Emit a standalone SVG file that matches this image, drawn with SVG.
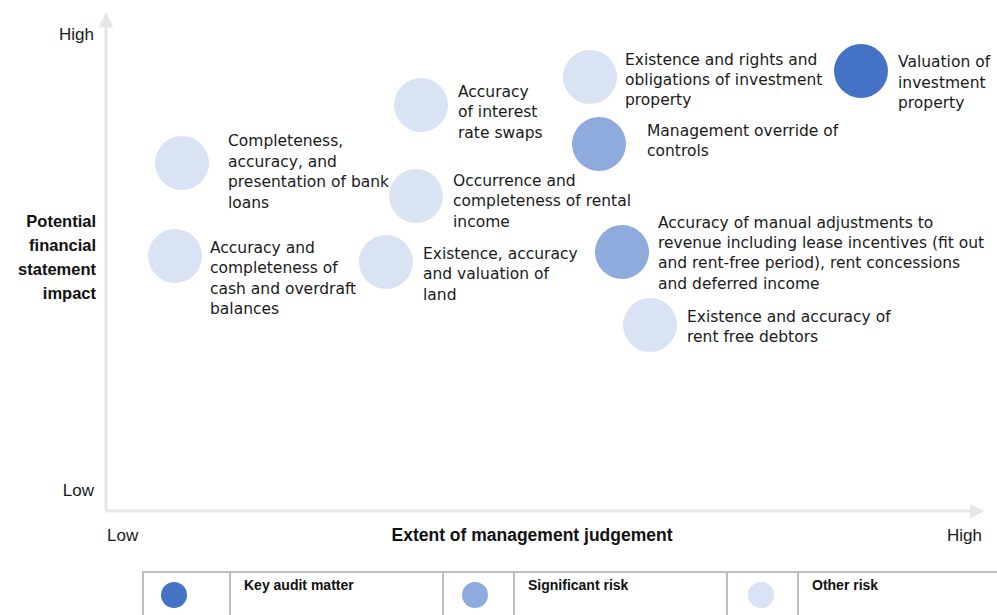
<svg xmlns="http://www.w3.org/2000/svg" width="997" height="615" viewBox="0 0 997 615">
<style>
.lbl{font-family:"DejaVu Sans",Verdana,sans-serif;font-size:15.5px;fill:#1a1a1a}
.ax{font-family:"Liberation Sans",Arial,sans-serif;font-size:17px;fill:#1a1a1a}
.axb{font-family:"Liberation Sans",Arial,sans-serif;font-size:16.5px;font-weight:bold;fill:#111}
.lg{font-family:"Liberation Sans",Arial,sans-serif;font-size:14px;font-weight:bold;fill:#111}
.kam{fill:#4472C4}
.sig{fill:#8FAADC}
.oth{fill:#DAE3F3}
.axis{stroke:#E6E6E6;stroke-width:3;fill:none}
.tb{stroke:#BFBFBF;stroke-width:2;fill:none}
</style>
<defs>
<marker id="ah" viewBox="0 0 10 10" refX="9" refY="5" markerWidth="5" markerHeight="5" orient="auto" markerUnits="strokeWidth">
<path d="M0,0 L10,5 L0,10 Z" fill="#E6E6E6"/>
</marker>
</defs>
<rect width="997" height="615" fill="#fff"/>
<g id="connectors">
<path class="axis" d="M106,511 L106,14" marker-end="url(#ah)"/>
<path class="axis" d="M106,511 L983,511" marker-end="url(#ah)"/>
</g>
<g id="axis-labels">
<text class="ax" x="94" y="40" text-anchor="end">High</text>
<text class="ax" x="94" y="496" text-anchor="end">Low</text>
<text class="ax" x="107" y="541">Low</text>
<text class="ax" x="982" y="541" text-anchor="end">High</text>
<text class="axb" text-anchor="end"><tspan x="96" y="227">Potential</tspan><tspan x="96" y="251">financial</tspan><tspan x="96" y="275">statement</tspan><tspan x="96" y="299">impact</tspan></text>
<text class="axb" x="532" y="541" text-anchor="middle" style="font-size:17.5px">Extent of management judgement</text>
</g>
<g id="n1"><circle class="oth" cx="182" cy="163" r="27"/><text class="lbl"><tspan x="228" y="146">Completeness,</tspan><tspan x="228" y="167">accuracy, and</tspan><tspan x="228" y="187">presentation of bank</tspan><tspan x="228" y="208">loans</tspan></text></g>
<g id="n2"><circle class="oth" cx="175" cy="256" r="27"/><text class="lbl"><tspan x="210" y="253">Accuracy and</tspan><tspan x="210" y="273">completeness of</tspan><tspan x="210" y="294">cash and overdraft</tspan><tspan x="210" y="314">balances</tspan></text></g>
<g id="n3"><circle class="oth" cx="421" cy="105" r="27"/><text class="lbl"><tspan x="458" y="97">Accuracy</tspan><tspan x="458" y="117">of interest</tspan><tspan x="458" y="138">rate swaps</tspan></text></g>
<g id="n4"><circle class="oth" cx="416" cy="196" r="27"/><text class="lbl"><tspan x="453" y="186">Occurrence and</tspan><tspan x="453" y="206">completeness of rental</tspan><tspan x="453" y="227">income</tspan></text></g>
<g id="n5"><circle class="oth" cx="386" cy="262" r="27"/><text class="lbl"><tspan x="423" y="259">Existence, accuracy</tspan><tspan x="423" y="279">and valuation of</tspan><tspan x="423" y="300">land</tspan></text></g>
<g id="n6"><circle class="oth" cx="590" cy="77" r="27"/><text class="lbl"><tspan x="625" y="65">Existence and rights and</tspan><tspan x="625" y="85">obligations of investment</tspan><tspan x="625" y="105">property</tspan></text></g>
<g id="n7"><circle class="sig" cx="599" cy="144" r="27"/><text class="lbl"><tspan x="647" y="136">Management override of</tspan><tspan x="647" y="156">controls</tspan></text></g>
<g id="n8"><circle class="kam" cx="861" cy="71" r="27"/><text class="lbl"><tspan x="898" y="67">Valuation of</tspan><tspan x="898" y="88">investment</tspan><tspan x="898" y="108">property</tspan></text></g>
<g id="n9"><circle class="sig" cx="622" cy="252" r="27"/><text class="lbl"><tspan x="658" y="228">Accuracy of manual adjustments to</tspan><tspan x="658" y="248">revenue including lease incentives (fit out</tspan><tspan x="658" y="268">and rent-free period), rent concessions</tspan><tspan x="658" y="289">and deferred income</tspan></text></g>
<g id="n10"><circle class="oth" cx="650" cy="325" r="27"/><text class="lbl"><tspan x="687" y="322">Existence and accuracy of</tspan><tspan x="687" y="342">rent free debtors</tspan></text></g>
<g id="legend">
<path class="tb" d="M143,616 L143,572 L997,572 M230,572 L230,616 M443,572 L443,616 M514,572 L514,616 M727,572 L727,616 M798,572 L798,616"/>
<circle class="kam" cx="174" cy="595" r="13"/>
<text class="lg" x="244" y="590">Key audit matter</text>
<circle class="sig" cx="475" cy="595" r="13"/>
<text class="lg" x="528" y="590">Significant risk</text>
<circle class="oth" cx="761" cy="595" r="13"/>
<text class="lg" x="812" y="590">Other risk</text>
</g>
</svg>
